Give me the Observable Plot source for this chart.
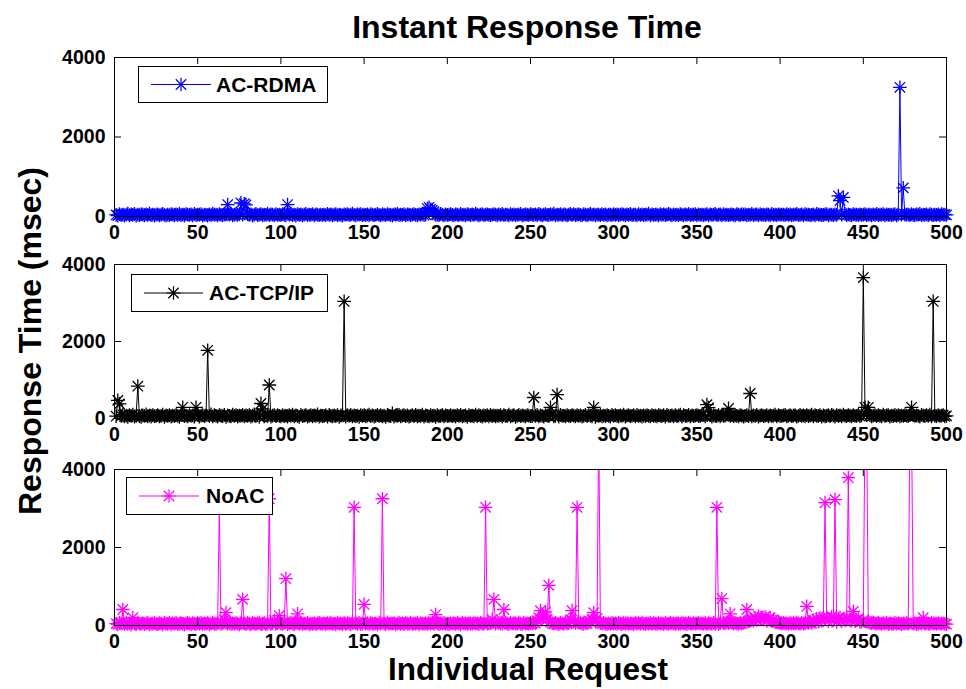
<!DOCTYPE html>
<html>
<head>
<meta charset="utf-8">
<script src="https://cdn.jsdelivr.net/npm/d3@7"></script>
<script src="https://cdn.jsdelivr.net/npm/@observablehq/plot@0.6"></script>
<style>
  html, body { margin: 0; padding: 0; background: #fff; }
  #wrap { position: relative; width: 966px; height: 689px; overflow: hidden; font-family: "Liberation Sans", Arial, sans-serif; }
  .abs { position: absolute; left: 0; }
  .legend { position: absolute; background: #fff; border: 1px solid #000; box-sizing: border-box; }
  .legend span { position: absolute; font-weight: bold; font-size: 21px; line-height: 21px; white-space: nowrap; color: #000; }
  .legend svg { position: absolute; left: 0; top: 0; overflow: visible; }
</style>
</head>
<body>
<div id="wrap"></div>
<script>
// ---------------- DATA ----------------
const seriesNames = ["AC-RDMA", "AC-TCP/IP", "NoAC"];
const xTicks = [0, 50, 100, 150, 200, 250, 300, 350, 400, 450, 500];
const yTicks = [0, 2000, 4000];

// baseline response times (msec) for requests 1..500
const rdmaBase = [
40,25,60,35,50,20,45,70,30,55,40,65,25,50,35,60,45,30,55,40,70,35,50,25,45,
55,30,45,65,40,20,50,35,60,45,30,55,40,75,35,50,25,60,45,40,55,30,65,35,50,
45,60,30,50,40,25,55,35,70,45,50,30,60,40,35,55,45,40,50,65,30,45,55,40,60,
35,50,45,30,60,40,55,25,50,65,35,45,60,30,50,40,70,35,55,45,30,60,40,50,35,
60,40,30,55,45,70,35,50,25,60,40,55,30,45,65,35,50,40,60,30,55,45,35,50,40,
50,35,65,40,55,30,45,60,35,50,40,25,55,45,60,35,50,70,40,30,55,45,60,35,50,
40,55,30,60,45,35,50,65,40,30,55,45,35,60,50,40,25,55,45,65,35,50,40,60,30,
55,45,35,50,60,40,30,55,45,70,35,50,40,60,45,30,55,40,50,35,65,45,30,55,40,
45,60,40,30,55,50,35,65,40,45,30,60,50,35,55,40,70,45,30,50,60,35,45,55,40,
35,50,60,45,30,55,40,65,35,50,45,30,60,40,55,35,50,45,65,30,40,55,50,35,60,
50,40,55,35,65,45,30,50,60,40,35,55,45,70,30,50,40,60,35,55,45,30,50,65,40,
60,35,45,55,40,30,60,50,35,45,65,40,55,30,50,45,35,60,40,55,30,50,45,35,60,
40,55,35,50,60,45,30,55,40,65,35,50,45,30,60,40,55,35,50,45,70,30,55,40,50,
45,30,60,40,55,35,50,65,45,30,55,40,50,35,60,45,30,55,40,65,35,50,45,60,30,
55,40,50,35,45,60,30,55,40,50,65,35,45,55,30,60,40,50,35,45,55,40,30,60,45,
35,60,45,55,30,50,40,65,35,45,55,30,60,40,50,35,55,45,30,65,40,50,35,55,45,
50,45,35,60,40,55,30,50,45,65,35,40,55,30,60,45,50,35,40,55,30,65,45,50,35,
40,55,60,30,50,45,35,55,40,60,30,50,45,65,35,55,40,30,60,45,50,35,55,40,45,
60,35,50,45,30,55,40,65,35,50,45,60,30,55,40,50,35,45,60,30,55,40,50,35,45,
45,50,35,60,40,30,55,45,65,35,50,40,55,30,60,45,35,50,40,55,30,60,45,50,40];
const rdmaPeakIdx = [68, 76, 78, 79, 104, 188, 189, 190, 191, 192, 435, 436, 438, 472, 474];
const rdmaPeakVal = [300, 340, 320, 290, 300, 200, 230, 180, 150, 120, 520, 400, 480, 3250, 720];

const tcpBase = [
60,80,45,70,95,55,75,40,85,65,100,50,70,90,60,45,80,65,110,55,75,50,90,60,70,
85,55,70,100,45,80,65,90,50,75,60,95,70,45,85,120,60,75,55,90,65,80,50,70,95,
50,75,90,60,80,45,70,105,55,85,65,50,90,75,60,95,45,80,70,55,100,65,85,50,75,
70,95,55,80,65,90,50,75,110,60,85,45,70,95,55,80,65,100,50,75,90,60,85,70,55,
90,60,75,50,85,65,100,55,80,70,45,95,60,75,85,50,70,90,55,80,65,105,50,75,60,
65,85,50,95,70,55,80,60,90,45,75,100,65,50,85,70,95,55,80,60,75,45,90,70,85,
55,75,100,60,80,50,70,95,65,85,55,75,45,90,70,60,130,50,80,65,95,55,75,85,60,
80,50,70,85,60,95,55,75,65,100,50,80,70,55,90,65,75,45,85,60,70,95,55,80,65,
70,90,60,75,50,85,65,95,55,70,80,45,90,65,75,55,100,60,85,70,50,80,65,90,55,
95,60,80,55,75,65,90,50,85,70,60,100,55,75,85,45,70,95,60,80,65,55,90,75,60,
60,85,70,95,55,80,65,50,90,75,60,85,110,55,70,80,50,95,65,75,55,90,70,60,85,
75,55,90,65,80,50,70,95,60,85,75,55,90,45,80,65,100,55,75,60,85,70,50,95,65,
85,70,55,80,65,100,50,75,90,60,70,85,55,95,65,75,50,80,60,90,70,55,85,65,75,
55,90,75,60,85,50,95,65,70,80,55,90,60,75,100,50,85,65,70,95,55,80,60,75,90,
70,60,85,95,55,75,65,90,50,80,70,60,95,55,85,65,75,110,50,70,90,60,80,65,55,
90,75,50,70,85,60,100,55,80,65,95,50,75,85,60,70,90,55,80,65,75,100,55,85,60,
65,80,95,55,70,90,60,75,85,50,70,95,65,80,55,90,60,75,100,55,85,65,70,90,50,
80,55,70,85,60,95,75,50,90,65,80,55,100,70,60,85,75,55,90,65,70,95,60,80,55,
60,95,65,80,55,75,90,60,85,70,55,100,65,80,90,50,75,60,95,70,85,55,75,65,90,
75,60,85,55,90,65,80,70,50,95,75,60,85,65,100,55,80,70,60,90,65,75,85,55,70];
const tcpPeakIdx = [2, 3, 14, 41, 49, 56, 88, 89, 93, 138, 252, 262, 266, 288, 356, 357, 369, 382, 450, 451, 453, 479, 492];
const tcpPeakVal = [470, 380, 840, 290, 290, 1770, 390, 250, 870, 3040, 545, 290, 620, 290, 360, 280, 260, 650, 3660, 290, 290, 290, 3040];

const noacBase = [
50,30,70,45,60,35,80,40,55,25,65,45,30,75,50,40,60,35,55,70,30,50,45,65,40,
35,60,45,25,70,50,40,65,30,55,45,75,35,50,60,40,25,55,70,45,30,60,50,35,65,
45,70,35,55,40,60,30,50,75,45,35,65,50,40,60,150,120,45,70,35,55,40,65,50,30,
60,40,55,35,70,45,30,65,50,40,55,75,35,45,60,30,50,70,40,55,130,35,60,45,50,
40,65,50,35,55,75,45,30,60,50,40,70,35,55,45,65,30,50,40,60,35,55,70,45,40,
55,35,60,45,70,40,50,30,65,45,55,35,75,40,60,50,30,55,45,65,40,70,35,50,60,
45,60,35,70,50,40,55,30,65,45,60,50,35,75,40,55,45,60,30,50,70,40,55,35,65,
50,40,65,35,55,45,70,30,60,50,40,55,35,65,45,75,40,50,60,35,55,45,70,40,50,
35,55,45,60,40,70,50,30,65,45,55,35,60,50,40,75,45,55,35,65,50,40,60,45,55,
60,150,90,45,110,70,55,40,120,65,50,35,70,45,60,55,40,75,50,35,65,45,55,40,70,
45,80,60,120,200,180,150,220,190,160,140,90,60,45,70,50,35,65,55,40,75,45,60,150,50,
110,70,45,90,60,50,40,65,55,120,100,150,140,110,180,130,60,45,70,50,35,55,40,65,45,
55,40,65,50,35,60,45,70,40,55,50,35,65,45,60,40,75,50,35,55,45,65,40,60,50,
40,60,45,55,35,70,50,40,65,45,55,35,60,50,40,75,45,55,35,65,50,40,60,45,55,
65,45,55,40,70,35,60,50,45,65,40,55,35,60,110,70,55,80,60,90,75,45,65,50,40,
60,50,75,90,70,110,130,150,120,190,140,240,160,210,150,230,120,160,200,110,150,100,90,80,60,
50,65,45,55,40,70,50,60,45,75,55,40,65,50,60,80,70,90,60,130,90,170,100,190,120,
200,120,210,110,170,230,130,160,90,180,200,110,170,130,190,100,140,120,180,110,150,170,90,100,140,
120,130,90,70,60,80,55,45,65,50,40,60,45,70,35,55,50,40,65,45,60,50,35,55,45,
60,40,55,70,45,60,35,50,65,45,55,40,60,50,35,65,45,55,40,60,50,45,55,40,35];
const noacPeakIdx = [5, 11, 63, 67, 77, 93, 99, 103, 110, 144, 150, 161, 193, 223, 228, 234, 256, 259, 261, 275, 278, 288, 291, 362, 365, 370, 380, 416, 427, 433, 441, 444, 451, 452, 478, 479, 486];
const noacPeakVal = [410, 200, 3050, 330, 670, 3250, 250, 1200, 300, 3030, 540, 3250, 280, 3030, 670, 410, 380, 350, 1030, 380, 3030, 330, 5200, 3030, 690, 300, 410, 490, 3150, 3230, 3790, 360, 5200, 5200, 5200, 5200, 200];

// -------------- helpers --------------
[rdmaBase, tcpBase, noacBase].forEach((a, k) => {
  if (a.length !== 500) throw new Error("length of base " + k + " = " + a.length);
});
function buildTable(base, idx, val) {
  const peaks = new Map(idx.map((d, j) => [d, val[j]]));
  return base.map((b, j) => ({ i: j + 1, v: peaks.has(j + 1) ? peaks.get(j + 1) : b }));
}
const tables = [
  buildTable(rdmaBase, rdmaPeakIdx, rdmaPeakVal),
  buildTable(tcpBase, tcpPeakIdx, tcpPeakVal),
  buildTable(noacBase, noacPeakIdx, noacPeakVal)
];
const colors = ["#0000ff", "#000000", "#ff00ff"];

// panel geometry (page pixels)
const panels = [
  { top: 57, bottom: 216, legend: { left: 138, top: 66, w: 190, h: 37, x1: 12, x2: 72, text: 77 } },
  { top: 264, bottom: 418, legend: { left: 131, top: 274, w: 197, h: 38, x1: 12, x2: 71, text: 77 } },
  { top: 469, bottom: 625, legend: { left: 126, top: 477, w: 147, h: 38, x1: 12, x2: 72, text: 79 } }
];

const wrap = document.getElementById("wrap");
const font = '"Liberation Sans", Arial, sans-serif';
const mt = 12, mb = 34;

panels.forEach((p, k) => {
  const innerH = p.bottom - p.top;
  const data = tables[k];
  const shown = data.filter(d => d.v <= 4000);
  const c = colors[k];
  const svg = Plot.plot({
    width: 966,
    height: innerH + mt + mb,
    marginLeft: 114,
    marginRight: 20,
    marginTop: mt,
    marginBottom: mb,
    x: { domain: [0, 500] },
    y: { domain: [0, 4000] },
    style: { fontFamily: font, fontSize: "19.5px", fontWeight: "bold", color: "#000", background: "transparent", overflow: "visible" },
    marks: [
      Plot.line(data, { x: "i", y: "v", stroke: c, strokeWidth: 1, clip: true }),
      Plot.dot(shown, { x: "i", y: "v", symbol: "plus", r: 4.5, stroke: c, strokeWidth: 1.3 }),
      Plot.dot(shown, { x: "i", y: "v", symbol: "times", r: 4.8, stroke: c, strokeWidth: 1.3 }),
      Plot.frame({ stroke: "#000", strokeWidth: 1 }),
      Plot.tickX(xTicks, { x: d => d, stroke: "#000", insetTop: innerH - 7 }),
      Plot.tickX(xTicks, { x: d => d, stroke: "#000", insetBottom: innerH - 7 }),
      Plot.tickY(yTicks, { y: d => d, stroke: "#000", insetRight: 832 - 7 }),
      Plot.tickY(yTicks, { y: d => d, stroke: "#000", insetLeft: 832 - 7 }),
      Plot.axisX(xTicks, { tickSize: 0, tickPadding: 9, label: null, tickFormat: d => String(d) }),
      Plot.axisY(yTicks, { tickSize: 0, tickPadding: 9, label: null, tickFormat: d => String(d) })
    ]
  });
  svg.classList.add("abs");
  svg.style.top = (p.top - mt) + "px";
  wrap.appendChild(svg);

  // legend box
  const L = p.legend;
  const box = document.createElement("div");
  box.className = "legend";
  box.style.left = L.left + "px";
  box.style.top = L.top + "px";
  box.style.width = L.w + "px";
  box.style.height = L.h + "px";
  const cy = L.h / 2 - 1;
  const ls = d3.create("svg").attr("width", L.w).attr("height", L.h);
  ls.append("line").attr("x1", L.x1).attr("x2", L.x2).attr("y1", cy).attr("y2", cy)
    .attr("stroke", c).attr("stroke-width", 1);
  const mx = (L.x1 + L.x2) / 2;
  ls.append("path").attr("d", d3.symbol(d3.symbolPlus, Math.PI * 4.5 * 4.5)()).attr("transform", `translate(${mx},${cy})`)
    .attr("stroke", c).attr("fill", "none").attr("stroke-width", 1.2);
  ls.append("path").attr("d", d3.symbol(d3.symbolTimes, Math.PI * 4.8 * 4.8)()).attr("transform", `translate(${mx},${cy})`)
    .attr("stroke", c).attr("fill", "none").attr("stroke-width", 1.2);
  box.appendChild(ls.node());
  const sp = document.createElement("span");
  sp.textContent = seriesNames[k];
  sp.style.left = L.text + "px";
  sp.style.top = (cy - 11) + "px";
  box.appendChild(sp);
  wrap.appendChild(box);
});

// titles and axis labels
const over = d3.create("svg").attr("width", 966).attr("height", 689)
  .style("position", "absolute").style("left", "0").style("top", "0").style("pointer-events", "none")
  .style("font-family", font).style("font-weight", "bold");
over.append("text").attr("x", 527).attr("y", 38).attr("text-anchor", "middle")
  .attr("font-size", 32).text("Instant Response Time");
over.append("text").attr("x", 528).attr("y", 680).attr("text-anchor", "middle")
  .attr("font-size", 31.5).text("Individual Request");
over.append("text").attr("transform", "translate(41,341) rotate(-90)").attr("text-anchor", "middle")
  .attr("font-size", 32).text("Response Time (msec)");
wrap.appendChild(over.node());
</script>
</body>
</html>
